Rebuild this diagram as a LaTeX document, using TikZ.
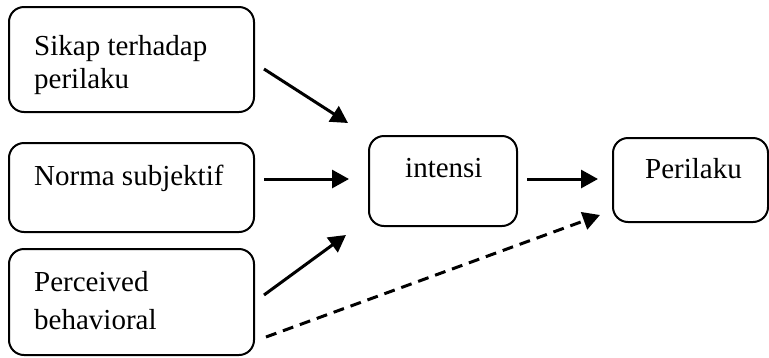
\documentclass[tikz,border=0pt]{standalone}
\usepackage{fontspec}
\setmainfont{Liberation Serif}
\usetikzlibrary{arrows.meta}
\begin{document}
\begin{tikzpicture}[x=1pt,y=-1pt,
  box/.style={draw=black,line width=2pt,rounded corners=15pt},
  lbl/.style={anchor=base west,inner sep=0pt,font=\fontsize{29}{34}\selectfont},
  arr/.style={line width=3pt,-{Triangle[length=17pt,width=18pt]}},
  darr/.style={arr,dash pattern=on 11pt off 7pt}]
\useasboundingbox (0,0) rectangle (769,357);
% boxes
\draw[box] (9,7) rectangle (254,112);
\draw[box] (9,143) rectangle (254,232);
\draw[box] (9,249) rectangle (254,355);
\draw[box] (369,136) rectangle (517,226);
\draw[box] (613,138) rectangle (768,222);
% texts
\node[lbl] (t1a) at (34,55) {Sikap terhadap};
\node[lbl] (t1b) at (34,88) {perilaku};
\node[lbl] (t2) at (34,185) {Norma subjektif};
\node[lbl] (t3a) at (34,291) {Perceived};
\node[lbl] (t3b) at (34,329) {behavioral};
\node[lbl] (t4) at (405,177) {intensi};
\node[lbl] (t5) at (645,178) {Perilaku};
% arrow ends
\coordinate (s1) at (264,69);  \coordinate (e1) at (348,123);
\coordinate (s2) at (264,179); \coordinate (e2) at (349,179);
\coordinate (s3) at (264,295); \coordinate (e3) at (346,235);
\coordinate (s4) at (527,179); \coordinate (e4) at (598,179);
\coordinate (s5) at (266,337); \coordinate (e5) at (600,215);
\draw[arr] (s1) -- (e1);
\draw[arr] (s2) -- (e2);
\draw[arr] (s3) -- (e3);
\draw[arr] (s4) -- (e4);
\draw[darr] (s5) -- (e5);
\end{tikzpicture}
\end{document}
